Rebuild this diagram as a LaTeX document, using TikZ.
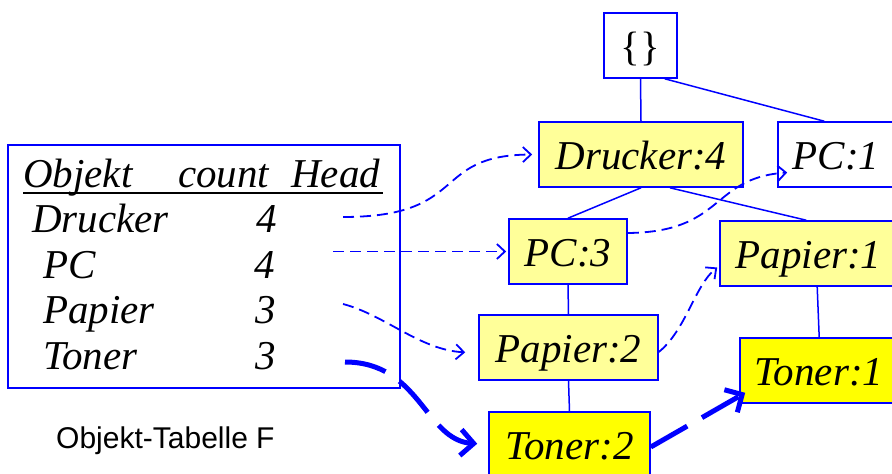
\documentclass[tikz,border=0pt]{standalone}
\usepackage{fontspec}
\setmainfont{Liberation Serif}
\newfontfamily\capfont{Liberation Sans}
\usetikzlibrary{arrows.meta}
\definecolor{lblue}{RGB}{0,0,255}
\definecolor{paleyel}{RGB}{255,255,153}
\definecolor{brightyel}{RGB}{255,255,0}
\tikzset{
  bigfont/.style={font=\fontsize{41}{41}\selectfont\itshape},
  box/.style={draw=lblue, line width=1.6pt, inner sep=0pt, minimum height=65pt,
    text height=30pt, text depth=0pt, bigfont},
  cell/.style={inner sep=0pt, anchor=base west, bigfont},
  edge/.style={draw=lblue, line width=1.5pt},
  thinarrow/.style={draw=lblue, line width=1.8pt, dash pattern=on 11pt off 6pt,
    -{Straight Barb[length=8pt,width=15pt,line width=1.8pt]}},
  thickarrow/.style={draw=lblue, line width=5pt, dash pattern=on 42pt off 17pt,
    -{Straight Barb[length=13pt,width=26pt,line width=5pt]}}
}
\begin{document}
\begin{tikzpicture}[x=1pt,y=-1pt]
\useasboundingbox (0,0) rectangle (892,474);

% tree nodes
\node[box, font=\fontsize{41}{41}\selectfont, minimum width=73pt] (root) at (640.5,45.5) {\{\}};
\node[box, fill=paleyel, minimum width=204pt] (d4) at (641,154.5) {Drucker:4};
\node[box, fill=white, minimum width=116pt] (pc1) at (836,154.5) {PC:1};
\node[box, fill=paleyel, minimum width=118pt] (pc3) at (568,251.5) {PC:3};
\node[box, fill=paleyel, minimum width=177pt] (pap1) at (808.5,253.5) {Papier:1};
\node[box, fill=paleyel, minimum width=179pt] (pap2) at (568.5,347.5) {Papier:2};
\node[box, fill=brightyel, minimum width=158pt] (ton1) at (819,370.5) {Toner:1};
\node[box, fill=brightyel, minimum width=161pt] (ton2) at (569.5,444.5) {Toner:2};

% tree edges
\draw[edge] (root.south) -- (d4.north);
\draw[edge] ([xshift=-13pt]root.south east) -- ([xshift=47pt]pc1.north west);
\draw[edge] (d4.south) -- (pc3.north);
\draw[edge] ([xshift=29pt]d4.south) -- ([xshift=87pt]pap1.north west);
\draw[edge] (pc3.south) -- (pap2.north);
\draw[edge] (pap2.south) -- (ton2.north);
\draw[edge] ([xshift=98pt]pap1.south west) -- ([xshift=80pt]ton1.north west);

% table
\node[draw=lblue, line width=1.6pt, inner sep=0pt, minimum width=392pt, minimum height=243pt] (tab) at (204,266.5) {};
\node[cell] (hobj) at (23,187) {Objekt};
\node[cell] (hcnt) at (178,187) {count};
\node[cell] (hhead) at (291,187) {Head};
\draw[line width=2.5pt] (23,193) -- (383,193);
\node[cell] (rD) at (32,232) {Drucker};
\node[cell] (nD) at (256,232) {4};
\node[cell] (rPC) at (43,278) {PC};
\node[cell] (nPC) at (254,278) {4};
\node[cell] (rPa) at (43,323) {Papier};
\node[cell] (nPa) at (255,323) {3};
\node[cell] (rT) at (43,369) {Toner};
\node[cell] (nT) at (255,369) {3};

\node[font=\capfont\fontsize{30}{30}\selectfont, inner sep=0pt, anchor=base west] (cap) at (56,448) {Objekt-Tabelle F};

% head pointers
\coordinate (sD) at (343,217);
\coordinate (sPC) at (333,251.5);
\coordinate (sPa) at (343,304);
\coordinate (sT) at (345,362);
\draw[thinarrow, shorten >=6pt] (sD) .. controls (470,217) and (430,155) .. (d4.west);
\draw[thinarrow, shorten >=2pt] (sPC) -- (pc3.west);
\draw[thinarrow, shorten >=13pt] (sPa) .. controls (385,315) and (420,350) .. ([yshift=-5.5pt]pap2.west);
\draw[thinarrow] ([yshift=-4.5pt]pap2.east) .. controls (686,330) and (695,285) .. ([xshift=-2pt,yshift=-14pt]pap1.west);
\draw[thinarrow] ([yshift=18.5pt]pc3.east) .. controls (725,232) and (710,178) .. ([xshift=10pt,yshift=-18pt]pc1.west);
\draw[thickarrow, shorten >=11pt] (sT) .. controls (420,362) and (425,440) .. (ton2.west);
\draw[thickarrow] ([yshift=-2.5pt]ton2.east) -- ([xshift=6pt,yshift=11pt]ton1.south west);
\end{tikzpicture}
\end{document}
